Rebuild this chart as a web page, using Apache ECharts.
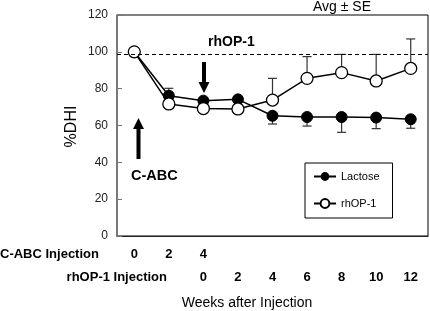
<!DOCTYPE html>
<html>
<head>
<meta charset="utf-8">
<script src="https://cdn.jsdelivr.net/npm/echarts@6/dist/echarts.min.js"></script>
<style>
  html, body { margin: 0; padding: 0; background: #fff; }
  #chart { width: 430px; height: 311px; }
</style>
</head>
<body>
<div id="chart"></div>
<script>
// weeks after C-ABC injection (one category per time point)
var weeks = ['0', '2', '4', '6', '8', '10', '12', '14', '16'];
var cabcTicks = ['0', '2', '4', '', '', '', '', '', ''];
var rhopTicks = ['', '', '0', '2', '4', '6', '8', '10', '12'];
var yTicks = [0, 20, 40, 60, 80, 100, 120];

// %DHI means
var lactose = [100, 76.2, 73.5, 74.2, 65.3, 64.6, 64.6, 64.3, 63.4];
var rhop = [100, 71.7, 69.2, 69.0, 73.8, 85.6, 88.7, 84.2, 91.0];
// end of the one-sided SE bar (null = no bar drawn)
var lactoseErr = [null, 80.2, 75.1, null, 60.8, 59.7, 56.3, 58.3, 58.5];
var rhopErr = [null, null, null, null, 85.6, 97.4, 98.6, 98.6, 107.0];
var baseline = 98.8;

function errData(means, ends) {
  var out = [];
  for (var i = 0; i < means.length; i++) {
    if (ends[i] != null) out.push([i, means[i], ends[i]]);
  }
  return out;
}

function errorBarItem(params, api) {
  var p = api.coord([api.value(0), api.value(1)]);
  var e = api.coord([api.value(0), api.value(2)]);
  var half = 4.5;
  var st = { stroke: '#333', lineWidth: 1.2 };
  return {
    type: 'group',
    children: [
      { type: 'line', shape: { x1: p[0], y1: p[1], x2: e[0], y2: e[1] }, style: st },
      { type: 'line', shape: { x1: e[0] - half, y1: e[1], x2: e[0] + half, y2: e[1] }, style: st }
    ]
  };
}

var chart = echarts.init(document.getElementById('chart'));

var fontFam = 'Liberation Sans, Arial, sans-serif';

chart.setOption({
  animation: false,
  textStyle: { fontFamily: fontFam },
  grid: {
    left: 117, right: 2, top: 15, bottom: 75,
    show: true, borderColor: '#000', borderWidth: 1
  },
  legend: {
    orient: 'vertical',
    left: 305, top: 163,
    padding: [8, 13, 9, 8],
    itemGap: 16,
    itemWidth: 22, itemHeight: 11,
    borderColor: '#000', borderWidth: 1,
    textStyle: { fontSize: 11, color: '#000', fontFamily: fontFam },
    data: ['Lactose', 'rhOP-1']
  },
  xAxis: [
    {
      type: 'category',
      data: weeks,
      boundaryGap: true,
      axisLine: { lineStyle: { color: '#222', width: 1.2 } },
      axisTick: { inside: false, length: 4, lineStyle: { color: '#222' } },
      axisLabel: {
        margin: 12,
        fontSize: 13, fontWeight: 'bold', color: '#000',
        formatter: function (v, i) { return cabcTicks[i]; }
      }
    },
    {
      type: 'category',
      data: weeks,
      position: 'bottom',
      offset: 23,
      axisLine: { show: false },
      axisTick: { show: false },
      axisLabel: {
        margin: 12,
        fontSize: 13, fontWeight: 'bold', color: '#000',
        formatter: function (v, i) { return rhopTicks[i]; }
      }
    }
  ],
  yAxis: {
    type: 'value',
    min: yTicks[0], max: yTicks[yTicks.length - 1], interval: 20,
    splitLine: { show: false },
    axisLine: { show: true, lineStyle: { color: '#777', width: 1.5 } },
    axisTick: { show: true, inside: true, length: 5, lineStyle: { color: '#777' } },
    axisLabel: { fontSize: 12, color: '#222', margin: 9 }
  },
  series: [
    {
      type: 'custom',
      renderItem: errorBarItem,
      data: errData(lactose, lactoseErr),
      z: 1,
      silent: true
    },
    {
      type: 'custom',
      renderItem: errorBarItem,
      data: errData(rhop, rhopErr),
      z: 1,
      silent: true
    },
    {
      name: 'Lactose',
      type: 'line',
      data: lactose,
      symbol: 'circle',
      symbolSize: 11,
      lineStyle: { color: '#000', width: 1.5 },
      itemStyle: { color: '#000', borderColor: '#000' },
      z: 3,
      markLine: {
        silent: true,
        symbol: 'none',
        label: { show: false },
        lineStyle: { color: '#000', type: [4, 3], width: 1 },
        data: [{ yAxis: baseline }]
      }
    },
    {
      name: 'rhOP-1',
      type: 'line',
      data: rhop,
      symbol: 'circle',
      symbolSize: 12,
      lineStyle: { color: '#000', width: 1.5 },
      itemStyle: { color: '#fff', borderColor: '#000', borderWidth: 1.3 },
      z: 4
    }
  ],
  graphic: [
    { type: 'text', left: 'center', top: 0, x: 0, style: { text: '', fill: '#000' } },
    { type: 'text', x: 342, y: 7, style: { text: 'Avg ± SE', font: '14px ' + fontFam, fill: '#000', align: 'center', verticalAlign: 'middle' } },
    { type: 'text', x: 72, y: 126.5, rotation: Math.PI / 2, style: { text: '%DHI', font: '16px ' + fontFam, fill: '#000', align: 'center', verticalAlign: 'middle' } },
    { type: 'text', x: 247, y: 303, style: { text: 'Weeks after Injection', font: '14px ' + fontFam, fill: '#000', align: 'center', verticalAlign: 'middle' } },
    { type: 'text', x: 0, y: 254, style: { text: 'C-ABC Injection', font: 'bold 13px ' + fontFam, fill: '#000', align: 'left', verticalAlign: 'middle' } },
    { type: 'text', x: 167, y: 277, style: { text: 'rhOP-1 Injection', font: 'bold 13px ' + fontFam, fill: '#000', align: 'right', verticalAlign: 'middle' } },
    { type: 'text', x: 208, y: 42.5, style: { text: 'rhOP-1', font: 'bold 14px ' + fontFam, fill: '#000', align: 'left', verticalAlign: 'middle' } },
    { type: 'text', x: 131, y: 176, style: { text: 'C-ABC', font: 'bold 14.5px ' + fontFam, fill: '#000', align: 'left', verticalAlign: 'middle' } },
    // arrow down at rhOP-1 injection
    { type: 'polygon', shape: { points: [[202, 62], [206, 62], [206, 82], [209.5, 82], [204, 93], [198.5, 82], [202, 82]] }, style: { fill: '#000' } },
    // arrow up at C-ABC injection
    { type: 'polygon', shape: { points: [[136.5, 159], [140.5, 159], [140.5, 129], [144, 129], [138.5, 118], [133, 129], [136.5, 129]] }, style: { fill: '#000' } }
  ]
});
</script>
</body>
</html>
